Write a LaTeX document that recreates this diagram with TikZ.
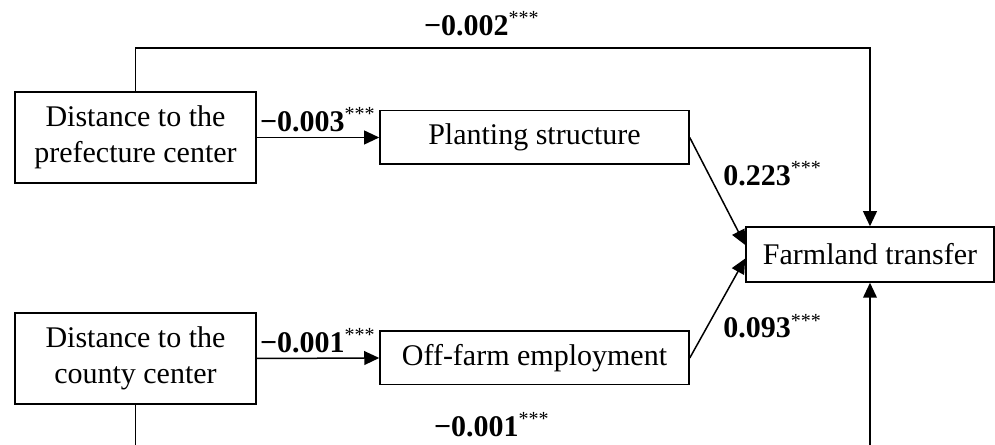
\documentclass[tikz,border=0pt]{standalone}
\usepackage{fontspec}
\setmainfont{Liberation Serif}
\usepackage{tikz}
\usetikzlibrary{positioning,arrows.meta,calc}
\tikzset{
  varbox/.style={draw, line width=0.6pt, align=center, inner sep=0pt,
                 font=\fontsize{12}{14.4}\selectfont},
  distbox/.style={varbox, minimum width=96.4pt, minimum height=36.4pt},
  medbox/.style={varbox, minimum width=123.6pt, minimum height=21.4pt},
  outbox/.style={varbox, minimum width=99.2pt, minimum height=22pt},
  link/.style={-{Triangle[length=6pt, width=5.5pt]}, line width=0.6pt},
  coef/.style={font=\fontsize{12}{14.4}\selectfont, inner sep=2pt}
}
\newcommand{\coefval}[1]{\textbf{#1}\textsuperscript{***}}

\begin{document}
\begin{tikzpicture}[x=0.4pt, y=-0.4pt]
\useasboundingbox (0,0) rectangle (995,445);
% variables
\node[distbox] (pref) at (135.5,137.5) {Distance to the\\prefecture center};
\node[distbox] (county) at (135.5,358.5) {Distance to the\\county center};
\node[medbox] (plant) at (534.5,137.5) {Planting structure};
\node[medbox] (offf) at (534.5,358) {Off-farm employment};
\node[outbox] (farm) at (870,254.5) {Farmland transfer};
% direct effects
\coordinate (topy) at (482,48);
\coordinate (boty) at (492,449);
\draw[link] (pref.north) |- (topy) -| (farm.north);
\draw[link] (county.south) |- (boty) -| (farm.south);
\node[coef, anchor=south, yshift=2.5pt] (ctop) at (topy) {\coefval{−0.002}};
\node[coef, anchor=south, yshift=2.5pt] (cbot) at (boty) {\coefval{−0.001}};
% mediation paths
\draw[link] (pref.east) -- node[coef, above] (cpref) {\coefval{−0.003}} (plant.west);
\draw[link] (county.east) -- node[coef, above] (ccounty) {\coefval{−0.001}} (offf.west);
\draw[link] (plant.east) -- node[coef, anchor=south west] (cplant) {\coefval{0.223}} ([yshift=3.8pt]farm.west);
\draw[link] (offf.east) -- node[coef, anchor=north west] (coffs) {\coefval{0.093}} ([yshift=-1.6pt]farm.west);
\end{tikzpicture}
\end{document}
